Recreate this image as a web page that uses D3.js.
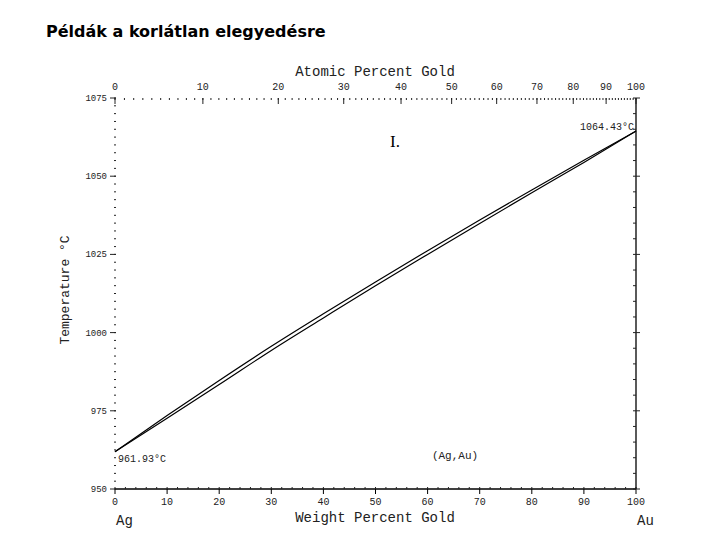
<!DOCTYPE html>
<html><head><meta charset="utf-8">
<script src="https://cdn.jsdelivr.net/npm/d3@7"></script>
<style>body{margin:0;background:#fff}svg{display:block}</style>
</head><body>
<script>
const title = "Példák a korlátlan elegyedésre";
const wtPct = [0,10,20,30,40,50,60,70,80,90,100];
const liquidus = [961.93, 973.5, 984.7, 995.6, 1006.0, 1016.2, 1026.2, 1036.0, 1045.6, 1055.1, 1064.43];
const solidus  = [961.93, 972.6, 983.4, 994.3, 1004.7, 1015.0, 1025.0, 1034.9, 1044.7, 1054.4, 1064.43];
const tempTicks = [950, 975, 1000, 1025, 1050, 1075];
const wtTicks = [0,10,20,30,40,50,60,70,80,90,100];
const atTicks = [0,10,20,30,40,50,60,70,80,90,100];
const massAu = 196.97, massAg = 107.87;

const W = 720, H = 540;
const svg = d3.select("body").append("svg").attr("width", W).attr("height", H);
const x = d3.scaleLinear().domain([0,100]).range([115,636]);
const y = d3.scaleLinear().domain([950,1075]).range([489,98]);
const atToWt = a => 100*a*massAu/(a*massAu + (100-a)*massAg);
const mono = "'Liberation Mono', 'DejaVu Sans Mono', monospace";
const ink = "#222";

svg.append("text").attr("x",46).attr("y",37).text(title)
  .attr("font-family","'DejaVu Sans', Verdana, sans-serif").attr("font-weight","bold")
  .attr("font-size",16).attr("fill","#000");

// bottom axis
const gB = svg.append("g");
gB.append("line").attr("x1",x(0)).attr("x2",x(100)).attr("y1",y(950)).attr("y2",y(950)).attr("stroke","#000").attr("stroke-width",1.3);
d3.range(0,101,2).forEach(v=>{
  gB.append("line").attr("x1",x(v)).attr("x2",x(v)).attr("y1",y(950)).attr("y2",y(950)-2).attr("stroke",ink);
});
wtTicks.forEach(v=>{
  gB.append("line").attr("x1",x(v)).attr("x2",x(v)).attr("y1",y(950)).attr("y2",y(950)+5).attr("stroke","#000");
  gB.append("text").attr("x",x(v)).attr("y",y(950)+16).attr("text-anchor","middle")
    .attr("font-family",mono).attr("font-size",10).attr("fill",ink).text(v);
});

// right axis
const gR = svg.append("g");
gR.append("line").attr("x1",x(100)).attr("x2",x(100)).attr("y1",y(950)).attr("y2",y(1075)).attr("stroke","#000").attr("stroke-width",1.3);
d3.range(950,1076,5).forEach(v=>{
  gR.append("line").attr("x1",x(100)).attr("x2",x(100)-3).attr("y1",y(v)).attr("y2",y(v)).attr("stroke",ink);
});
tempTicks.forEach(v=>{
  gR.append("line").attr("x1",x(100)).attr("x2",x(100)+4).attr("y1",y(v)).attr("y2",y(v)).attr("stroke",ink);
});

// left axis (dotted ticks)
const gL = svg.append("g");
d3.range(950,1075.1,2.5).forEach(v=>{
  gL.append("line").attr("x1",x(0)-1).attr("x2",x(0)+1).attr("y1",y(v)).attr("y2",y(v)).attr("stroke",ink);
});
tempTicks.forEach(v=>{
  gL.append("line").attr("x1",x(0)-5).attr("x2",x(0)+1).attr("y1",y(v)).attr("y2",y(v)).attr("stroke",ink);
  gL.append("text").attr("x",x(0)-8).attr("y",y(v)+3).attr("text-anchor","end")
    .attr("font-family",mono).attr("font-size",9).attr("fill",ink).text(v);
});

// top axis (atomic percent)
const gT = svg.append("g");
d3.range(0,101,1).forEach(a=>{
  const px = x(atToWt(a));
  gT.append("line").attr("x1",px).attr("x2",px).attr("y1",y(1075)).attr("y2",y(1075)+2).attr("stroke",ink);
});
atTicks.forEach(a=>{
  const px = x(atToWt(a));
  gT.append("line").attr("x1",px).attr("x2",px).attr("y1",y(1075)).attr("y2",y(1075)+6).attr("stroke",ink);
  gT.append("text").attr("x",px).attr("y",y(1075)-8).attr("text-anchor","middle")
    .attr("font-family",mono).attr("font-size",10).attr("fill",ink).text(a);
});

// curves
const line = d3.line().x(d=>x(d[0])).y(d=>y(d[1])).curve(d3.curveMonotoneX);
svg.append("path").attr("d", line(wtPct.map((w,i)=>[w,liquidus[i]])))
  .attr("fill","none").attr("stroke","#000").attr("stroke-width",1.2);
svg.append("path").attr("d", line(wtPct.map((w,i)=>[w,solidus[i]])))
  .attr("fill","none").attr("stroke","#000").attr("stroke-width",1.2);

// labels
const txt = (t,xx,yy,size,anchor,fam)=>svg.append("text").attr("x",xx).attr("y",yy).text(t)
  .attr("font-family",fam||mono).attr("font-size",size).attr("fill",ink).attr("text-anchor",anchor||"start");
txt("Atomic Percent Gold", 375, 76, 14, "middle");
txt("Weight Percent Gold", 375, 522, 14, "middle");
txt("Ag", 116, 525, 14, "start");
txt("Au", 637, 525, 14, "start");
txt("1064.43°C", 634, 130, 10, "end");
txt("961.93°C", 118, 462, 10, "start");
txt("(Ag,Au)", 455, 459, 11, "middle");
txt("I.", 390, 147, 17, "start", "'Liberation Serif', serif").attr("fill","#000");
svg.append("text").attr("transform","translate(69,290) rotate(-90)").attr("text-anchor","middle")
  .attr("font-family",mono).attr("font-size",13).attr("fill",ink).text("Temperature °C");
</script>
</body></html>
